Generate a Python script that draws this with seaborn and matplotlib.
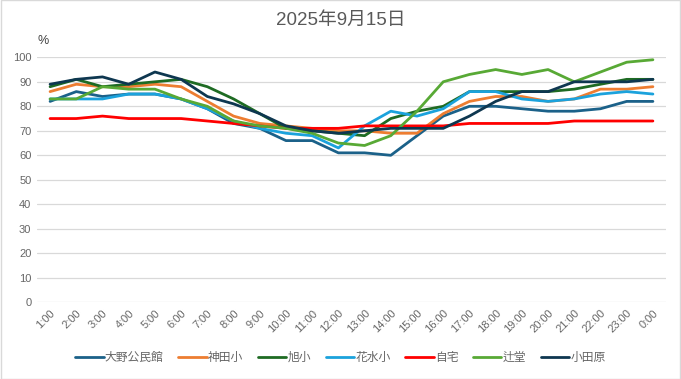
import matplotlib
matplotlib.use("Agg")
import matplotlib.pyplot as plt
import seaborn as sns
import pandas as pd

hours = ["1:00", "2:00", "3:00", "4:00", "5:00", "6:00", "7:00", "8:00", "9:00", "10:00",
         "11:00", "12:00", "13:00", "14:00", "15:00", "16:00", "17:00", "18:00", "19:00",
         "20:00", "21:00", "22:00", "23:00", "0:00"]

ohno = [82, 86, 84, 85, 85, 83, 79, 73, 71, 66, 66, 61, 61, 60, 68, 76, 80, 80, 79, 78, 78, 79, 82, 82]
kanda = [86, 89, 88, 88, 89, 88, 82, 76, 73, 72, 71, 70, 70, 69, 69, 77, 82, 84, 84, 82, 83, 87, 87, 88]
asahi = [88, 91, 88, 89, 90, 91, 88, 83, 77, 71, 70, 69, 68, 75, 78, 80, 86, 86, 86, 86, 87, 89, 91, 91]
hanamizu = [83, 83, 83, 85, 85, 83, 79, 74, 71, 69, 68, 63, 72, 78, 76, 79, 86, 86, 83, 82, 83, 85, 86, 85]
jitaku = [75, 75, 76, 75, 75, 75, 74, 73, 72, 71, 71, 71, 72, 72, 72, 72, 73, 73, 73, 73, 74, 74, 74, 74]
tsujido = [83, 83, 88, 87, 87, 83, 80, 74, 72, 71, 69, 65, 64, 68, 78, 90, 93, 95, 93, 95, 90, 94, 98, 99]
odawara = [89, 91, 92, 89, 94, 91, 84, 81, 77, 72, 70, 69, 70, 71, 71, 71, 76, 82, 86, 86, 90, 90, 90, 91]

series = {
    "大野公民館": ohno,
    "神田小": kanda,
    "旭小": asahi,
    "花水小": hanamizu,
    "自宅": jitaku,
    "辻堂": tsujido,
    "小田原": odawara,
}
colors = ["#1b6189", "#ed7d31", "#1e6b23", "#1ba2dc", "#ff0000", "#58a935", "#0e3750"]

rows = []
for name, vals in series.items():
    for i, v in enumerate(vals):
        rows.append({"pos": i, "site": name, "value": v})
df = pd.DataFrame(rows)

sns.set_theme(style="white")
fonts = ["Liberation Sans", "Noto Sans CJK JP", "DejaVu Sans"]
plt.rcParams["font.family"] = fonts

fig = plt.figure(figsize=(6.81, 3.79), dpi=100)
ax = fig.add_axes([0.0543, 0.2024, 0.9237, 0.6464])

sns.lineplot(data=df, x="pos", y="value", hue="site", hue_order=list(series.keys()),
             palette=colors, linewidth=2.0, ax=ax)

ax.set_xlim(-0.5, 23.5)
ax.set_ylim(0, 100)
ax.set_yticks(range(0, 101, 10))
ax.set_xticks(range(len(hours)))
ax.set_xticklabels(hours, rotation=45, ha="right", rotation_mode="anchor")
ax.tick_params(axis="both", labelsize=8, colors="#666666", length=0, pad=4)
ax.yaxis.grid(True, color="#d9d9d9", linewidth=0.9)
ax.set_axisbelow(True)
for s in ax.spines.values():
    s.set_visible(False)
ax.set_xlabel("")
ax.set_ylabel("")

fig.text(0.5, 0.947, "2025年9月15日", ha="center", va="center", fontsize=13.5, color="#595959")
fig.text(0.055, 0.893, "%", ha="left", va="center", fontsize=9, color="#404040")

handles, labels = ax.get_legend_handles_labels()
ax.legend_.remove()
fig.legend(handles, labels, loc="center", bbox_to_anchor=(0.5, 0.055), ncol=7, frameon=False,
           fontsize=8.5, labelcolor="#666666", handlelength=2.4, handletextpad=0.1,
           columnspacing=1.25)

border = plt.Rectangle((0.001, 0.001), 0.998, 0.998, transform=fig.transFigure, fill=False,
                       edgecolor="#d9d9d9", linewidth=1.0)
fig.patches.append(border)

fig.savefig("out.png", dpi=100)
